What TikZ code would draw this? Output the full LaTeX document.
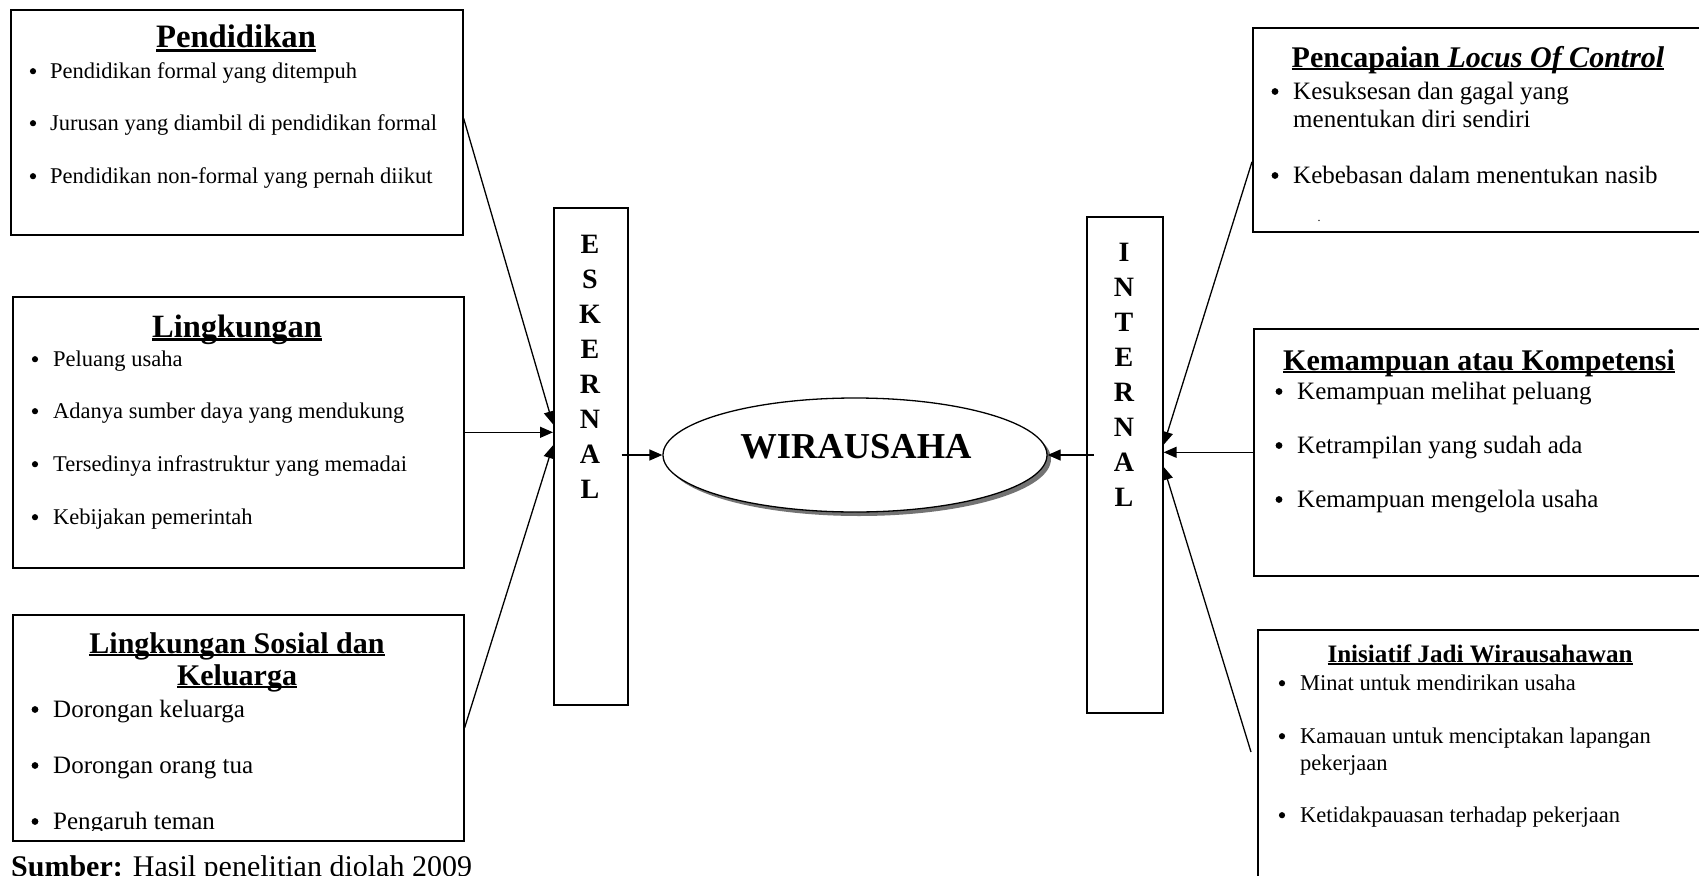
\documentclass[tikz,border=0pt]{standalone}
\usepackage{fontspec}
\setmainfont{Liberation Serif}
\usetikzlibrary{arrows.meta,shapes.geometric,shadows,calc}
\newcommand\myul[1]{\setbox0\hbox{#1}\rlap{\rule[-0.11em]{\wd0}{0.065em}}\box0}
\newcommand\fs[1]{\fontsize{#1}{#1}\selectfont}
\begin{document}
\begin{tikzpicture}[x=1pt,y=-1pt,
  box/.style={draw,line width=1.6pt,rectangle,inner sep=0,anchor=north west},
  arr/.style={line width=1.3pt,-{Triangle[length=13pt,width=11pt]}},
  txt/.style={anchor=base west,inner sep=0},
  bul/.style={circle,fill,inner sep=0,minimum size=#1},
  ttl/.style={anchor=base,inner sep=0},
  vl/.style={anchor=base,inner sep=0,font=\fs{28}\bfseries}]
\useasboundingbox (0,0) rectangle (1699,875);
\fill[white] (0,0) rectangle (1699,875);
\clip (0,0) rectangle (1699,875);

% ---------- left boxes
\node[box,minimum width=452pt,minimum height=225pt] (L1) at (10,9) {};
\node[box,minimum width=451pt,minimum height=271pt] (L2) at (12,296) {};
\node[box,minimum width=451pt,minimum height=226pt] (L3) at (12,614) {};

\node[ttl,font=\fs{32.7}\bfseries] (L1t) at (236,48) {\myul{Pendidikan}};
\begin{scope}[font=\fs{22.5}]
\node[bul=6.2pt] (L1b1) at (33,71.2) {};  \node[txt] (L1i1) at (50,78) {Pendidikan formal yang ditempuh};
\node[bul=6.2pt] (L1b2) at (33,123.2) {}; \node[txt] (L1i2) at (50,130) {Jurusan yang diambil di pendidikan formal};
\node[bul=6.2pt] (L1b3) at (33,176.2) {}; \node[txt] (L1i3) at (50,183) {Pendidikan non-formal yang pernah diikut};
\end{scope}

\node[ttl,font=\fs{32.5}\bfseries] (L2t) at (237,337) {\myul{Lingkungan}};
\begin{scope}[font=\fs{22.5}]
\node[bul=6.2pt] (L2b1) at (35,359.2) {}; \node[txt] (L2i1) at (53,366) {Peluang usaha};
\node[bul=6.2pt] (L2b2) at (35,411.2) {}; \node[txt] (L2i2) at (53,418) {Adanya sumber daya yang mendukung};
\node[bul=6.2pt] (L2b3) at (35,464.2) {}; \node[txt] (L2i3) at (53,471) {Tersedinya infrastruktur yang memadai};
\node[bul=6.2pt] (L2b4) at (35,517.2) {}; \node[txt] (L2i4) at (53,524) {Kebijakan pemerintah};
\end{scope}

\node[ttl,font=\fs{30}\bfseries] (L3t1) at (237,653) {\myul{Lingkungan Sosial dan}};
\node[ttl,font=\fs{30}\bfseries] (L3t2) at (237,685) {\myul{Keluarga}};
\begin{scope}[font=\fs{25}]
\clip (12,614) rectangle (463,830);
\node[bul=6.8pt] (L3b1) at (35,709.5) {}; \node[txt] (L3i1) at (53,717) {Dorongan keluarga};
\node[bul=6.8pt] (L3b2) at (35,765.5) {}; \node[txt] (L3i2) at (53,773) {Dorongan orang tua};
\node[bul=6.8pt] (L3b3) at (35,821.5) {}; \node[txt] (L3i3) at (53,829) {Pengaruh teman};
\end{scope}

\node[txt,font=\fs{30}] (src) at (11,876) {\textbf{Sumber:} Hasil penelitian diolah 2009};

% ---------- middle
\node[box,minimum width=74pt,minimum height=497pt] (esk) at (553,207) {};
\foreach \l [count=\i] in {E,S,K,E,R,N,A,L}
  \node[vl] (esk\i) at (590,{253+35.1*(\i-1)}) {\l};

\node[box,minimum width=76pt,minimum height=496pt] (int) at (1086,216) {};
\foreach \l [count=\i] in {I,N,T,E,R,N,A,L}
  \node[vl] (int\i) at (1124,{261.5+35*(\i-1)}) {\l};

\node[ellipse,draw,line width=1.3pt,minimum width=384pt,minimum height=114pt,inner sep=0,fill=white,
  drop shadow={shadow xshift=4pt,shadow yshift=-4pt,fill=black!55,opacity=1}] (wira) at (855,455) {};
\node[ttl,font=\fs{36.5}\bfseries] (wirat) at (856,458) {WIRAUSAHA};

% ---------- right boxes
\node[box,minimum width=454pt,minimum height=204pt] (R1) at (1252,27) {};
\node[box,minimum width=453pt,minimum height=247pt] (R2) at (1253,328) {};
\node[box,minimum width=449pt,minimum height=300pt] (R3) at (1257,629) {};

\node[ttl,font=\fs{30}\bfseries] (R1t) at (1478,67) {\myul{Pencapaian \textit{Locus Of Control}}};
\begin{scope}[font=\fs{25}]
\node[bul=6.8pt] (R1b1) at (1275,91.5) {};  \node[txt] (R1i1) at (1293,99) {Kesuksesan dan gagal yang};
\node[txt] (R1i1b) at (1293,127) {menentukan diri sendiri};
\node[bul=6.8pt] (R1b2) at (1275,175.5) {}; \node[txt] (R1i2) at (1293,183) {Kebebasan dalam menentukan nasib};
\end{scope}
\node[ttl,font=\fs{12}] (R1dot) at (1319,221) {.};

\node[ttl,font=\fs{30}\bfseries] (R2t) at (1479,370) {\myul{Kemampuan atau Kompetensi}};
\begin{scope}[font=\fs{25}]
\node[bul=6.8pt] (R2b1) at (1279,391.5) {}; \node[txt] (R2i1) at (1297,399) {Kemampuan melihat peluang};
\node[bul=6.8pt] (R2b2) at (1279,445.5) {}; \node[txt] (R2i2) at (1297,453) {Ketrampilan yang sudah ada};
\node[bul=6.8pt] (R2b3) at (1279,499.5) {}; \node[txt] (R2i3) at (1297,507) {Kemampuan mengelola usaha};
\end{scope}

\node[ttl,font=\fs{25.1}\bfseries] (R3t) at (1480,662) {\myul{Inisiatif Jadi Wirausahawan}};
\begin{scope}[font=\fs{22.5}]
\node[bul=6.2pt] (R3b1) at (1282,683.2) {}; \node[txt] (R3i1) at (1300,690) {Minat untuk mendirikan usaha};
\node[bul=6.2pt] (R3b2) at (1282,736.2) {}; \node[txt] (R3i2) at (1300,743) {Kamauan untuk menciptakan lapangan};
\node[txt] (R3i2b) at (1300,770) {pekerjaan};
\node[bul=6.2pt] (R3b3) at (1282,815.2) {}; \node[txt] (R3i3) at (1300,822) {Ketidakpauasan terhadap pekerjaan};
\end{scope}

% ---------- connectors
\draw[arr] ([yshift=4pt]L1.east) -- ([yshift=32pt]esk.west);
\draw[arr] (L2.east) -- (L2.east -| esk.west);
\draw[arr] (L3.east) -- ([yshift=11pt]esk.west);
\draw[arr] ($(esk.east |- wira.west)+(-7,0)$) -- (wira.west);
\draw[arr] ($(int.west |- wira.east)+(8,0)$) -- (wira.east);
\draw[arr] ([yshift=-32pt]R1.west) -- ([yshift=20pt]int.east);
\draw[arr] (R2.west) -- (R2.west -| int.east);
\coordinate (r3s) at (1251,752);
\draw[arr] (r3s) -- ([yshift=-2pt]int.east);
\end{tikzpicture}
\end{document}
